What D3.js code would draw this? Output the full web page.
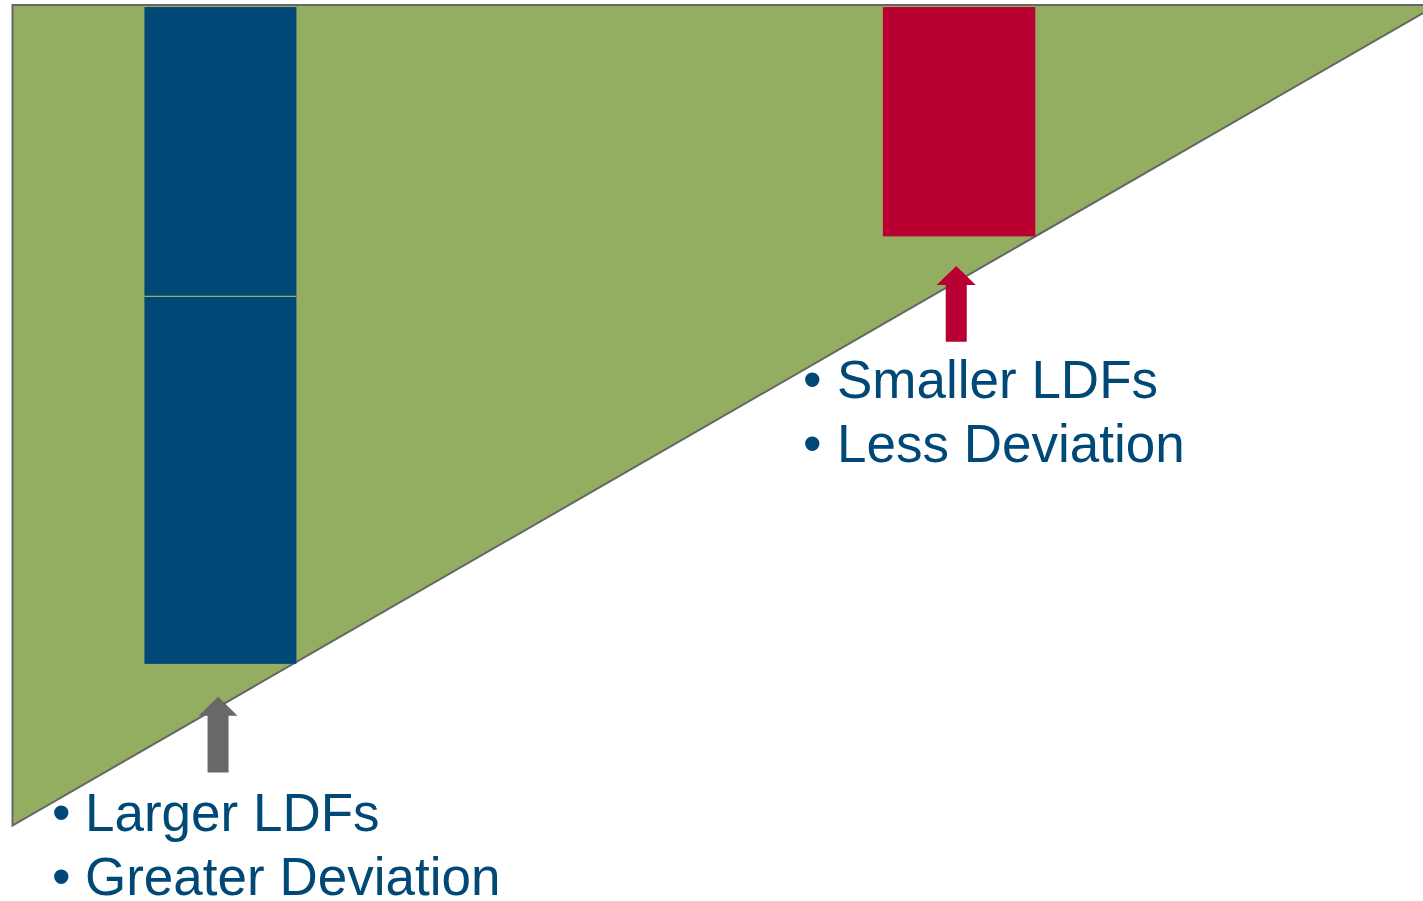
<!DOCTYPE html>
<html>
<head>
<meta charset="utf-8">
<script src="https://cdn.jsdelivr.net/npm/d3@7"></script>
<style>
  body { margin: 0; background: #fff; }
  svg { display: block; }
  text { font-family: "Liberation Sans", Arial, sans-serif; }
</style>
</head>
<body>
<div id="chart"></div>
<script>
// triangle (development area) in data units
const triangleX = [0, 0, 100];
const triangleY = [0, 100, 100];

// bars: x start, x end, stacked segment bounds
const barNames = ["Larger LDFs", "Smaller LDFs"];
const barX0 = [9.26, 61.1];
const barX1 = [19.93, 71.8];
const barSegments = [[19.7, 64.5, 99.75], [71.8, 99.75]];

// arrows: tip and tail
const arrowX = [14.43, 66.25];
const arrowTip = [15.7, 68.2];
const arrowTail = [6.45, 58.95];

const labelLines = [["Larger LDFs", "Greater Deviation"], ["Smaller LDFs", "Less Deviation"]];

const width = 1423, height = 901;
const green = "#94ae61", blue = "#004876", red = "#b80032", gray = "#686868";
const barColors = [blue, red];
const arrowColors = [gray, red];

const svg = d3.select("#chart").append("svg")
  .attr("width", width)
  .attr("height", height);

const x = d3.scaleLinear().domain([0, 100]).range([12.5, 1437]);
const y = d3.scaleLinear().domain([0, 100]).range([825.5, 5]);

// green triangle
const tri = triangleX.map((d, i) => [x(d), y(triangleY[i])]);
svg.append("path")
  .attr("d", d3.line()(tri) + "Z")
  .attr("fill", green)
  .attr("stroke", "#666")
  .attr("stroke-width", 2);

// bars (stacked segments)
barNames.forEach((name, i) => {
  const segs = barSegments[i];
  for (let k = 0; k < segs.length - 1; k++) {
    svg.append("rect")
      .attr("x", x(barX0[i]))
      .attr("width", x(barX1[i]) - x(barX0[i]))
      .attr("y", y(segs[k + 1]))
      .attr("height", y(segs[k]) - y(segs[k + 1]))
      .attr("fill", barColors[i]);
    if (k > 0) {
      svg.append("line")
        .attr("x1", x(barX0[i])).attr("x2", x(barX1[i]))
        .attr("y1", y(segs[k])).attr("y2", y(segs[k]))
        .attr("stroke", "#9cb455")
        .attr("stroke-width", 1.2);
    }
  }
});

// block arrows
const headW = 39, headH = 19, shaftW = 21;
arrowX.forEach((d, i) => {
  const cx = x(d), ty = y(arrowTip[i]), by = y(arrowTail[i]);
  const pts = [
    [cx, ty], [cx + headW / 2, ty + headH], [cx + shaftW / 2, ty + headH],
    [cx + shaftW / 2, by], [cx - shaftW / 2, by], [cx - shaftW / 2, ty + headH],
    [cx - headW / 2, ty + headH]
  ];
  svg.append("path")
    .attr("d", d3.line()(pts) + "Z")
    .attr("fill", arrowColors[i]);
});

// bullet labels
const labelPos = [{ bx: 52, tx: 85, y0: 831 }, { bx: 803, tx: 837, y0: 398 }];
labelLines.forEach((lines, i) => {
  const p = labelPos[i];
  lines.forEach((t, j) => {
    const yy = p.y0 + j * 63.5;
    svg.append("text")
      .attr("x", p.bx).attr("y", yy)
      .attr("font-size", 53)
      .attr("fill", blue)
      .text("\u2022");
    svg.append("text")
      .attr("x", p.tx).attr("y", yy)
      .attr("font-size", 53)
      .attr("fill", blue)
      .text(t);
  });
});
</script>
</body>
</html>
